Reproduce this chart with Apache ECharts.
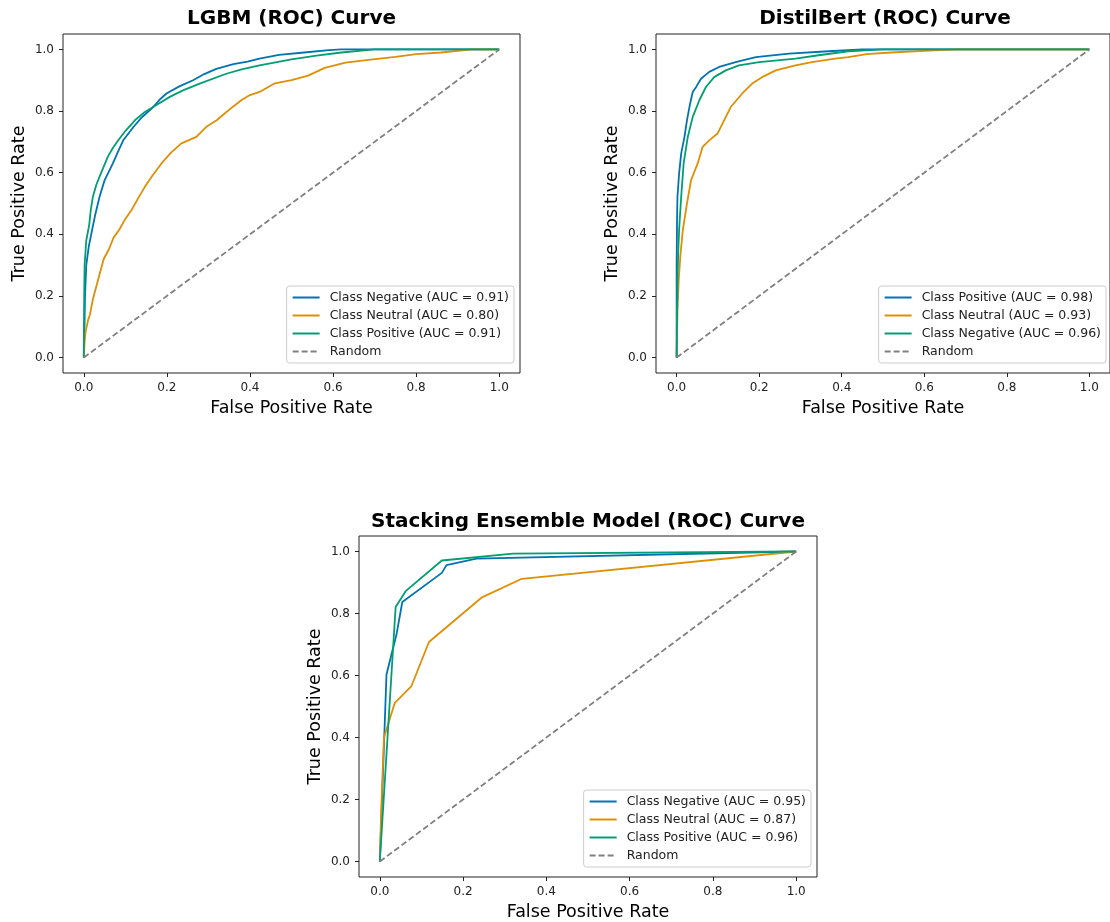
<!DOCTYPE html>
<html>
<head>
    <meta charset="UTF-8">
    <title>ROC Curves</title>
    <script src="https://cdn.jsdelivr.net/npm/echarts@6/dist/echarts.min.js"></script>
    <style>
        html, body { margin: 0; padding: 0; background: #fff; }
        #main { width: 1110px; height: 922px; }
    </style>
</head>
<body>
<div id="main"></div>
<script type="text/javascript">
    // tick positions shared by every axis
    var ticks = [0, 0.2, 0.4, 0.6, 0.8, 1.0];

    // LGBM
    var lgbmNegative = [[0,0],[0.002,0.12],[0.003,0.2],[0.006,0.3],[0.012,0.36],[0.02,0.414],[0.027,0.46],[0.038,0.522],[0.05,0.575],[0.07,0.63],[0.083,0.67],[0.095,0.705],[0.12,0.749],[0.14,0.78],[0.167,0.813],[0.185,0.84],[0.199,0.857],[0.23,0.88],[0.263,0.9],[0.29,0.92],[0.319,0.937],[0.36,0.952],[0.394,0.96],[0.423,0.97],[0.47,0.982],[0.53,0.99],[0.59,0.998],[0.62,1.0],[1,1]];
    var lgbmNeutral = [[0,0],[0.002,0.05],[0.004,0.08],[0.01,0.12],[0.015,0.14],[0.022,0.19],[0.03,0.23],[0.04,0.28],[0.048,0.32],[0.06,0.35],[0.072,0.39],[0.085,0.414],[0.1,0.45],[0.115,0.479],[0.13,0.515],[0.147,0.554],[0.165,0.59],[0.187,0.63],[0.21,0.665],[0.235,0.695],[0.271,0.716],[0.295,0.749],[0.32,0.77],[0.339,0.792],[0.36,0.815],[0.379,0.835],[0.4,0.852],[0.423,0.862],[0.46,0.89],[0.5,0.9],[0.54,0.915],[0.58,0.94],[0.63,0.957],[0.68,0.965],[0.75,0.976],[0.8,0.985],[0.86,0.99],[0.935,1.0],[1,1]];
    var lgbmPositive = [[0,0],[0.001,0.2],[0.002,0.3],[0.006,0.38],[0.013,0.43],[0.017,0.48],[0.022,0.522],[0.03,0.56],[0.038,0.587],[0.058,0.652],[0.07,0.68],[0.083,0.705],[0.1,0.735],[0.123,0.77],[0.145,0.795],[0.167,0.813],[0.207,0.846],[0.24,0.868],[0.279,0.889],[0.343,0.921],[0.38,0.935],[0.423,0.948],[0.5,0.968],[0.56,0.98],[0.62,0.99],[0.7,1.0],[1,1]];

    // DistilBert
    var bertPositive = [[0,0],[0,0.3],[0.001,0.45],[0.002,0.522],[0.006,0.598],[0.011,0.662],[0.019,0.716],[0.025,0.77],[0.032,0.82],[0.039,0.862],[0.048,0.88],[0.059,0.905],[0.079,0.927],[0.103,0.943],[0.143,0.959],[0.192,0.975],[0.272,0.986],[0.368,0.994],[0.45,1.0],[1,1]];
    var bertNeutral = [[0,0],[0.002,0.15],[0.005,0.25],[0.009,0.33],[0.015,0.414],[0.025,0.5],[0.035,0.576],[0.051,0.63],[0.063,0.684],[0.079,0.705],[0.099,0.727],[0.115,0.77],[0.131,0.813],[0.159,0.857],[0.183,0.889],[0.207,0.91],[0.24,0.932],[0.288,0.948],[0.328,0.959],[0.384,0.97],[0.416,0.975],[0.46,0.985],[0.52,0.99],[0.6,0.995],[0.68,1.0],[1,1]];
    var bertNegative = [[0,0],[0.002,0.25],[0.004,0.35],[0.006,0.414],[0.011,0.522],[0.017,0.63],[0.027,0.716],[0.039,0.781],[0.055,0.835],[0.071,0.878],[0.091,0.91],[0.119,0.932],[0.151,0.948],[0.2,0.959],[0.288,0.97],[0.344,0.981],[0.416,0.994],[0.5,1.0],[1,1]];

    // Stacking ensemble
    var stackNegative = [[0,0],[0.016,0.603],[0.04,0.732],[0.054,0.837],[0.149,0.931],[0.16,0.956],[0.232,0.977],[1,1]];
    var stackNeutral = [[0,0],[0.003,0.15],[0.01,0.4],[0.036,0.512],[0.076,0.566],[0.118,0.708],[0.244,0.851],[0.341,0.912],[1,1]];
    var stackPositive = [[0,0],[0.038,0.821],[0.062,0.872],[0.149,0.971],[0.32,0.993],[1,1]];

    var randomLine = [[0,0],[1,1]];

    var BLUE = '#0173b2', ORANGE = '#de8f05', GREEN = '#029e73', GREY = '#808080';
    var FONT = 'DejaVu Sans';

    function curve(name, data, color, idx) {
        return {
            name: name, type: 'line', data: data,
            xAxisIndex: idx, yAxisIndex: idx,
            symbol: 'none', showSymbol: false,
            lineStyle: { color: color, width: 1.8 },
            itemStyle: { color: color },
            animation: false
        };
    }
    function random(idx) {
        return {
            name: 'Random', type: 'line', data: randomLine,
            xAxisIndex: idx, yAxisIndex: idx,
            symbol: 'none', showSymbol: false,
            lineStyle: { color: GREY, width: 1.8, type: [6, 3] },
            itemStyle: { color: GREY },
            animation: false
        };
    }
    function fmt(v) { return v.toFixed(1); }

    function xAxis(idx) {
        return {
            type: 'value', gridIndex: idx, min: -0.05, max: 1.05,
            name: 'False Positive Rate', nameLocation: 'middle', nameGap: 26,
            nameTextStyle: { fontSize: 17.5, color: '#000', fontFamily: FONT },
            axisLine: { show: false, onZero: false },
            axisTick: { show: true, length: 4, customValues: ticks, lineStyle: { color: '#222' } },
            axisLabel: { customValues: ticks, formatter: fmt, margin: 9, fontSize: 12, color: '#222', fontFamily: FONT },
            splitLine: { show: false }
        };
    }
    function yAxis(idx) {
        return {
            type: 'value', gridIndex: idx, min: -0.05, max: 1.05,
            name: 'True Positive Rate', nameLocation: 'middle', nameGap: 35,
            nameTextStyle: { fontSize: 17.5, color: '#000', fontFamily: FONT },
            axisLine: { show: false, onZero: false },
            axisTick: { show: true, length: 4, customValues: ticks, lineStyle: { color: '#222' } },
            axisLabel: { customValues: ticks, formatter: fmt, margin: 9, fontSize: 12, color: '#222', fontFamily: FONT },
            splitLine: { show: false }
        };
    }
    function legend(names, right, top) {
        return {
            data: names, orient: 'vertical', right: right, top: top,
            itemWidth: 27, itemHeight: 14, itemGap: 5,
            padding: [5, 5, 5, 5],
            backgroundColor: 'rgba(255,255,255,0.8)',
            borderColor: '#cccccc', borderWidth: 1, borderRadius: 3,
            selectedMode: false,
            itemStyle: { opacity: 0 },
            textStyle: { fontSize: 12.5, color: '#222', fontFamily: FONT, padding: [0, 0, 0, 5] }
        };
    }
    function title(text, left, top) {
        return {
            text: text, left: left, top: top, textAlign: 'center', padding: 0,
            textStyle: { fontSize: 20, fontWeight: 'bold', color: '#000', fontFamily: FONT }
        };
    }

    var myChart = echarts.init(document.getElementById('main'));
    var option = {
        animation: false,
        textStyle: { fontFamily: FONT },
        title: [
            title('LGBM (ROC) Curve', 291.5, 9),
            title('DistilBert (ROC) Curve', 885, 9),
            title('Stacking Ensemble Model (ROC) Curve', 588, 512)
        ],
        grid: [
            { left: 63, top: 34, width: 457, height: 339, show: true, borderColor: '#222', borderWidth: 1, backgroundColor: 'transparent' },
            { left: 656, top: 34, width: 458, height: 339, show: true, borderColor: '#222', borderWidth: 1, backgroundColor: 'transparent' },
            { left: 359, top: 536, width: 458, height: 342, show: true, borderColor: '#222', borderWidth: 1, backgroundColor: 'transparent' }
        ],
        xAxis: [xAxis(0), xAxis(1), xAxis(2)],
        yAxis: [yAxis(0), yAxis(1), yAxis(2)],
        legend: [
            legend(['Class Negative (AUC = 0.91)', 'Class Neutral (AUC = 0.80)', 'Class Positive (AUC = 0.91)', 'Random'], 596, 286),
            legend(['Class Positive (AUC = 0.98)', 'Class Neutral (AUC = 0.93)', 'Class Negative (AUC = 0.96)', 'Random'], 4, 286),
            legend(['Class Negative (AUC = 0.95)', 'Class Neutral (AUC = 0.87)', 'Class Positive (AUC = 0.96)', 'Random'], 299, 790)
        ],
        series: [
            curve('Class Negative (AUC = 0.91)', lgbmNegative, BLUE, 0),
            curve('Class Neutral (AUC = 0.80)', lgbmNeutral, ORANGE, 0),
            curve('Class Positive (AUC = 0.91)', lgbmPositive, GREEN, 0),
            random(0),
            curve('Class Positive (AUC = 0.98)', bertPositive, BLUE, 1),
            curve('Class Neutral (AUC = 0.93)', bertNeutral, ORANGE, 1),
            curve('Class Negative (AUC = 0.96)', bertNegative, GREEN, 1),
            random(1),
            curve('Class Negative (AUC = 0.95)', stackNegative, BLUE, 2),
            curve('Class Neutral (AUC = 0.87)', stackNeutral, ORANGE, 2),
            curve('Class Positive (AUC = 0.96)', stackPositive, GREEN, 2),
            random(2)
        ]
    };
    myChart.setOption(option);
</script>
</body>
</html>
